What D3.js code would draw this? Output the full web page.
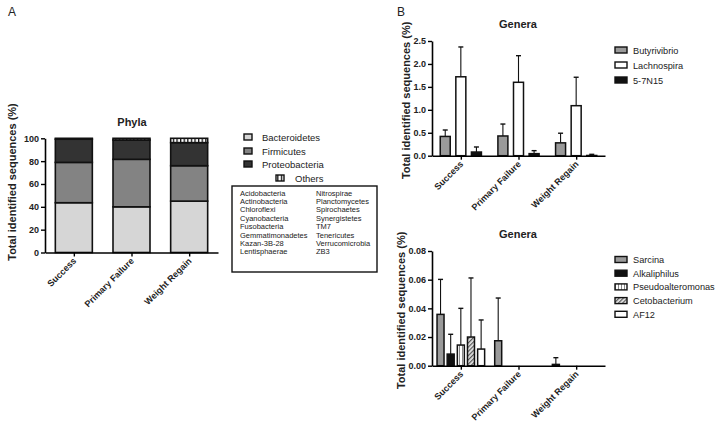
<!DOCTYPE html>
<html><head><meta charset="utf-8">
<script src="https://cdn.jsdelivr.net/npm/d3@7"></script>
<style>
body{margin:0;background:#fff;}
svg{display:block;font-family:"Liberation Sans",Arial,sans-serif;}
</style></head>
<body><svg id="c" width="720" height="427"></svg>
<script>
// ---------- DATA ----------
const categories = ["Success", "Primary Failure", "Weight Regain"];
const phylaNames = ["Bacteroidetes", "Firmicutes", "Proteobacteria", "Others"];
const bacteroidetes = [43.6, 40.0, 45.0];
const firmicutes = [35.3, 41.6, 31.0];
const proteobacteria = [20.3, 16.9, 20.2];
const others = [0.8, 1.5, 3.8];
const othersList1 = ["Acidobacteria","Actinobacteria","Chloroflexi","Cyanobacteria","Fusobacteria","Gemmatimonadetes","Kazan-3B-28","Lentisphaerae"];
const othersList2 = ["Nitrospirae","Planctomycetes","Spirochaetes","Synergistetes","TM7","Tenericutes","Verrucomicrobia","ZB3"];
const phylaTicks = [0, 20, 40, 60, 80, 100];

const generaTop = ["Butyrivibrio", "Lachnospira", "5-7N15"];
const butyrivibrio = [0.42, 0.43, 0.28];
const butyrivibrioSD = [0.14, 0.26, 0.21];
const lachnospira = [1.72, 1.60, 1.09];
const lachnospiraSD = [0.65, 0.58, 0.62];
const n57N15 = [0.08, 0.045, 0.005];
const n57N15SD = [0.11, 0.065, 0.025];
const topTicks = [0, 0.5, 1.0, 1.5, 2.0, 2.5];

const generaBottom = ["Sarcina", "Alkaliphilus", "Pseudoalteromonas", "Cetobacterium", "AF12"];
const sarcina = [0.0358, 0.0174, 0.0009];
const sarcinaSD = [0.0244, 0.0298, 0.0047];
const alkaliphilus = [0.0081, 0, 0];
const alkaliphilusSD = [0.0138, 0, 0];
const pseudoalteromonas = [0.0144, 0, 0];
const pseudoalteromonasSD = [0.0256, 0, 0];
const cetobacterium = [0.020, 0, 0];
const cetobacteriumSD = [0.0412, 0, 0];
const af12 = [0.0116, 0, 0];
const af12SD = [0.0203, 0, 0];
const bottomTicks = [0, 0.02, 0.04, 0.06, 0.08];

// ---------- SETUP ----------
const svg = d3.select("#c");
const defs = svg.append("defs");
const p1 = defs.append("pattern").attr("id","vstripe").attr("patternUnits","userSpaceOnUse").attr("width",3.6).attr("height",4);
p1.append("rect").attr("width",3.6).attr("height",4).attr("fill","#fff");
p1.append("rect").attr("x",0).attr("width",1.3).attr("height",4).attr("fill","#111");
const p2 = defs.append("pattern").attr("id","vlight").attr("patternUnits","userSpaceOnUse").attr("width",3).attr("height",4);
p2.append("rect").attr("width",3).attr("height",4).attr("fill","#fff");
p2.append("rect").attr("x",0).attr("width",1).attr("height",4).attr("fill","#888");
const p3 = defs.append("pattern").attr("id","diag").attr("patternUnits","userSpaceOnUse").attr("width",3).attr("height",3).attr("patternTransform","rotate(45)");
p3.append("rect").attr("width",3).attr("height",3).attr("fill","#e6e6e6");
p3.append("rect").attr("width",1.2).attr("height",3).attr("fill","#555");

function drawAxes(g, x, y, ticks, fmt, xr, yr) {
  const ya = d3.axisLeft(y).tickValues(ticks).tickFormat(fmt).tickSize(4).tickSizeOuter(0);
  const yg = g.append("g").attr("transform", `translate(${xr[0]},0)`).call(ya);
  yg.select(".domain").attr("stroke","#000").attr("stroke-width",1.6);
  yg.selectAll(".tick line").attr("stroke","#000").attr("stroke-width",1.4);
  yg.selectAll(".tick text").attr("font-size",9).attr("font-weight","bold").attr("fill","#222").attr("dx",1);
  const xa = d3.axisBottom(x).tickSize(4).tickSizeOuter(0).tickFormat("");
  const xg = g.append("g").attr("transform", `translate(0,${yr})`).call(xa);
  xg.select(".domain").attr("stroke","#000").attr("stroke-width",1.6);
  xg.selectAll(".tick line").attr("stroke","#000").attr("stroke-width",1.4);
  categories.forEach(c => {
    const cx = x(c);
    g.append("text").attr("transform", `translate(${cx+3},${yr+9}) rotate(-45)`)
      .attr("text-anchor","end").attr("font-size",9).attr("font-weight","bold").attr("fill","#222").text(c);
  });
}

function yTitle(g, cx, cy) {
  g.append("text").attr("transform", `translate(${cx},${cy}) rotate(-90)`).attr("text-anchor","middle")
    .attr("font-size",11).attr("font-weight","bold").attr("fill","#222").text("Total identified sequences (%)");
}

// ---------- PANEL A ----------
const gA = svg.append("g");
gA.append("text").attr("x",8).attr("y",16).attr("font-size",12).attr("fill","#222").text("A");
const xA = d3.scalePoint().domain(categories).range([45, 218]).padding(0.5);
const yA = d3.scaleLinear().domain([0, 100]).range([252.5, 138.3]);
const stackData = categories.map((c, i) => ({cat: c, Bacteroidetes: bacteroidetes[i], Firmicutes: firmicutes[i], Proteobacteria: proteobacteria[i], Others: others[i]}));
const stack = d3.stack().keys(phylaNames)(stackData);
const phylaFill = {Bacteroidetes: "#d6d6d6", Firmicutes: "#838383", Proteobacteria: "#333333", Others: "url(#vstripe)"};
const barWA = 37;
stack.forEach(layer => {
  gA.selectAll(null).data(layer).enter().append("rect")
    .attr("x", d => xA(d.data.cat) - barWA/2)
    .attr("y", d => yA(d[1]))
    .attr("width", barWA)
    .attr("height", d => yA(d[0]) - yA(d[1]))
    .attr("fill", phylaFill[layer.key])
    .attr("stroke", "#111").attr("stroke-width", 1.6);
});
drawAxes(gA, xA, yA, phylaTicks, d3.format("d"), [45, 218], 252.5);
yTitle(gA, 16, 182);
gA.append("text").attr("x",132).attr("y",126).attr("text-anchor","middle").attr("font-size",11).attr("font-weight","bold").attr("fill","#222").text("Phyla");

const legA = [["Bacteroidetes", 137], ["Firmicutes", 151], ["Proteobacteria", 164]];
legA.forEach(([n, yy]) => {
  gA.append("rect").attr("x",244).attr("y",yy-3).attr("width",8).attr("height",6).attr("fill",phylaFill[n]).attr("stroke","#111").attr("stroke-width",1.4);
  gA.append("text").attr("x",262).attr("y",yy+3.5).attr("font-size",9.5).attr("fill","#222").text(n);
});
gA.append("rect").attr("x",276).attr("y",175).attr("width",8).attr("height",6).attr("fill","url(#vstripe)").attr("stroke","#111").attr("stroke-width",1.4);
gA.append("text").attr("x",295).attr("y",181.5).attr("font-size",9.5).attr("fill","#222").text("Others");
gA.append("rect").attr("x",232).attr("y",186).attr("width",145).attr("height",86).attr("fill","none").attr("stroke","#111").attr("stroke-width",1.4);
othersList1.forEach((n, i) => gA.append("text").attr("x",240).attr("y",195.5 + i*8.4).attr("font-size",7.5).attr("fill","#222").text(n));
othersList2.forEach((n, i) => gA.append("text").attr("x",316).attr("y",195.5 + i*8.4).attr("font-size",7.5).attr("fill","#222").text(n));

// ---------- PANEL B ----------
const gB = svg.append("g");
gB.append("text").attr("x",397).attr("y",16).attr("font-size",12).attr("fill","#222").text("B");

function groupedChart(g, series, names, fills, yDom, yRange, ticks, fmt, barW, innerRange, title, titleY, legY0, legStep, titleX) {
  const x = d3.scalePoint().domain(categories).range([432, 605]).padding(0.5);
  const y = d3.scaleLinear().domain(yDom).range(yRange);
  const xi = d3.scalePoint().domain(names).range(innerRange);
  series.forEach((s, k) => {
    const nm = names[k];
    categories.forEach((c, i) => {
      const v = s.v[i], sd = s.sd[i];
      const cx = x(c) + xi(nm);
      if (sd > 0) {
        g.append("line").attr("x1",cx).attr("x2",cx).attr("y1",y(v)).attr("y2",y(v+sd)).attr("stroke","#111").attr("stroke-width",1.1);
        g.append("line").attr("x1",cx-2.5).attr("x2",cx+2.5).attr("y1",y(v+sd)).attr("y2",y(v+sd)).attr("stroke","#111").attr("stroke-width",1.4);
      }
      if (v > 0) {
        g.append("rect").attr("x",cx-barW/2).attr("y",y(v)).attr("width",barW).attr("height",y(0)-y(v))
          .attr("fill",fills[k]).attr("stroke","#111").attr("stroke-width",1.5);
      }
    });
  });
  drawAxes(g, x, y, ticks, fmt, [432, 605], yRange[0]);
  yTitle(g, titleX, (yRange[0]+yRange[1])/2 + 2);
  g.append("text").attr("x",518).attr("y",titleY).attr("text-anchor","middle").attr("font-size",11).attr("font-weight","bold").attr("fill","#222").text(title);
  names.forEach((n, k) => {
    const yy = legY0 + k*legStep;
    g.append("rect").attr("x",615).attr("y",yy-3).attr("width",12).attr("height",6).attr("fill",fills[k]).attr("stroke","#111").attr("stroke-width",1.4);
    g.append("text").attr("x",633).attr("y",yy+3.5).attr("font-size",9.2).attr("fill","#222").text(n);
  });
}

groupedChart(gB,
  [{v: butyrivibrio, sd: butyrivibrioSD}, {v: lachnospira, sd: lachnospiraSD}, {v: n57N15, sd: n57N15SD}],
  generaTop, ["#9a9a9a", "#ffffff", "#111111"],
  [0, 2.5], [155.7, 41], topTicks, d3.format(".1f"), 10, [-15.6, 15.6], "Genera", 28, 50, 15, 410);

groupedChart(gB,
  [{v: sarcina, sd: sarcinaSD}, {v: alkaliphilus, sd: alkaliphilusSD}, {v: pseudoalteromonas, sd: pseudoalteromonasSD}, {v: cetobacterium, sd: cetobacteriumSD}, {v: af12, sd: af12SD}],
  generaBottom, ["#9a9a9a", "#111111", "url(#vlight)", "url(#diag)", "#ffffff"],
  [0, 0.08], [365.7, 251], bottomTicks, d3.format(".2f"), 7, [-20.3, 20.3], "Genera", 238, 259.5, 13.7, 405);
</script></body></html>
